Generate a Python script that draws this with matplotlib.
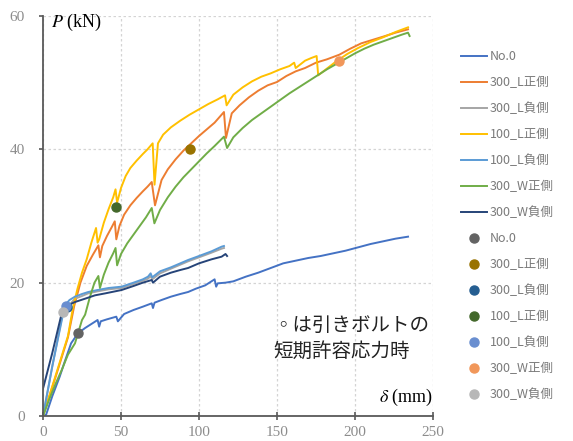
import matplotlib.pyplot as plt

# 荷重-変形データ (δ mm, P kN)
no0_x = [0, 2, 6, 10.7, 14, 18, 22.4, 27, 31, 35, 36, 37, 41, 47, 48, 52, 58, 64, 69.7, 70.5, 71.5,
         76, 82, 88, 93, 98, 104, 110, 111, 112, 117, 122, 130, 138, 146, 154, 162, 170, 178,
         186, 194, 202, 210, 218, 226, 234]
no0_y = [0, 0.2, 3, 5.9, 8.2, 10.9, 12.4, 13.2, 13.8, 14.4, 13.4, 14.2, 14.5, 14.9, 14.2, 15.3, 15.9,
         16.4, 16.9, 16.2, 17.0, 17.4, 17.9, 18.3, 18.6, 19.1, 19.6, 20.5, 19.4, 19.9, 20.0, 20.2,
         20.9, 21.5, 22.2, 22.9, 23.3, 23.7, 24.0, 24.4, 24.8, 25.3, 25.8, 26.2, 26.6, 26.9]

l300p_x = [0, 8, 16, 20, 24, 28, 32, 35.5, 36.5, 38, 41, 44, 46, 47, 49, 52, 56, 60, 64, 67, 69.7,
           71.8, 76, 80, 85, 90, 95, 100, 105, 110, 116, 117.3, 121, 126, 132, 138, 144, 150, 156,
           162, 168, 175, 182, 190, 197, 204, 211, 218, 226, 234]
l300p_y = [0, 5.8, 11.8, 16.5, 20, 22.5, 24.2, 25.6, 23.8, 25.5, 27, 28.3, 29.2, 26.5, 28.5, 30.2,
           31.6, 32.7, 33.7, 34.4, 35.1, 31.6, 35.4, 37, 38.5, 39.8, 40.9, 42, 43, 44, 45.6, 41.7,
           45.4, 46.6, 47.8, 48.8, 49.6, 50.1, 51.0, 51.7, 52.2, 53.0, 53.5, 54.2, 55.1, 55.9, 56.4,
           56.9, 57.5, 58.0]

l300m_x = [0, 6, 12.8, 16, 20.5, 25, 29, 35, 42, 50.4, 58, 64, 67.3, 69, 70, 75, 82, 88, 93, 100,
           108, 114.5, 116]
l300m_y = [0, 7.5, 15.6, 16.4, 17.6, 18.0, 18.4, 18.7, 19.0, 19.2, 19.8, 20.3, 20.6, 21.0, 20.5,
           21.4, 22.1, 22.7, 23.2, 23.8, 24.5, 25.1, 25.2]

l100p_x = [0, 8, 16, 19, 22, 25, 28, 31, 34, 35, 36, 39, 42, 45, 46.5, 47.5, 50, 53, 56, 60, 64, 67,
           70.3, 71.5, 73.7, 77, 82, 88, 94, 100, 106, 112, 116.7, 117.7, 122, 128, 134, 140, 146,
           152, 158, 161, 162, 168, 172, 175.4, 176.4, 180.8, 188, 195, 202, 210, 218, 226, 234]
l100p_y = [0, 6, 12, 16, 19, 21.5, 23.5, 26, 28.2, 26, 26.5, 29, 31, 32.8, 34, 32, 34.2, 36, 37.2,
           38.3, 39.3, 40.0, 40.9, 34.7, 40.9, 42.2, 43.3, 44.3, 45.2, 46, 46.8, 47.5, 48.1, 46.6,
           48.2, 49.3, 50.2, 50.9, 51.4, 52.0, 52.5, 53.0, 52.2, 53.3, 53.7, 54.0, 51.1, 51.9, 53.2,
           54.3, 55.2, 56.1, 56.8, 57.6, 58.3]

l100m_x = [0, 6, 14, 17, 20.5, 25, 29, 35, 42, 50.4, 58, 64, 67.3, 69, 70, 75, 82, 88, 93, 100,
           108, 114.5, 116]
l100m_y = [0, 7.5, 16.6, 17.4, 17.9, 18.3, 18.6, 18.9, 19.2, 19.4, 20.0, 20.5, 20.9, 21.4, 20.8,
           21.7, 22.3, 22.9, 23.4, 24.0, 24.7, 25.4, 25.5]

w300p_x = [0, 4, 8, 12, 16, 20.5, 25, 27, 30, 33, 35.5, 36.5, 39, 42, 45, 46.5, 47.5, 50, 54, 58,
           62, 66, 69.7, 71.4, 75, 80, 85, 90, 95, 100, 105, 110, 116, 118, 122, 128, 134, 140,
           146, 152, 158, 164, 170, 176, 182, 188, 194, 200, 206, 212, 218, 224, 230, 234, 235]
w300p_y = [0, 2.5, 4.8, 6.9, 9.2, 10.9, 14.4, 15.2, 17.8, 20.0, 21, 19.2, 21.2, 23, 24.4, 25.2,
           22.6, 24.3, 25.9, 27.2, 28.5, 29.8, 31.2, 28.9, 30.9, 32.8, 34.4, 35.8, 37, 38.2, 39.4,
           40.5, 41.9, 40.2, 41.8, 43.2, 44.4, 45.4, 46.4, 47.4, 48.4, 49.3, 50.2, 51.1, 52.0, 52.8,
           53.6, 54.4, 55.1, 55.7, 56.2, 56.7, 57.2, 57.5, 57.0]

w300m_x = [0, 6, 12.8, 16, 20.5, 27, 33.3, 40, 50.4, 58, 64, 69.7, 70.5, 75, 82, 88, 93, 100, 108,
           114.5, 117, 118]
w300m_y = [4.1, 9.5, 16.2, 16.6, 17.1, 17.6, 18.1, 18.4, 18.9, 19.5, 20.0, 20.4, 20.0, 20.9, 21.5,
           21.9, 22.2, 22.9, 23.5, 23.9, 24.3, 24.0]

line_labels = ["No.0", "300_L正側", "300_L負側", "100_L正側", "100_L負側", "300_W正側", "300_W負側"]
line_colors = ["#4472C4", "#ED7D31", "#A5A5A5", "#FFC000", "#5B9BD5", "#70AD47", "#264478"]
line_data = [(no0_x, no0_y), (l300p_x, l300p_y), (l300m_x, l300m_y), (l100p_x, l100p_y),
             (l100m_x, l100m_y), (w300p_x, w300p_y), (w300m_x, w300m_y)]

# 引きボルトの短期許容応力時
mark_x = [22.4, 94, 15.5, 46.8, 15, 190, 12.8]
mark_y = [12.4, 40, 16.4, 31.3, 16.5, 53.2, 15.6]
mark_colors = ["#636363", "#997300", "#255E91", "#43682B", "#698ED0", "#F1975A", "#B7B7B7"]


def draw() -> None:
    fig = plt.figure(figsize=(5.73, 4.41), dpi=100)
    ax = fig.add_axes([43 / 573, 1 - 416 / 441, 390 / 573, 400 / 441])

    handles = []
    for (x, y), c, lab in zip(line_data, line_colors, line_labels):
        h, = ax.plot(x, y, color=c, lw=1.4, label=lab)
        handles.append(h)
    for mx, my, c, lab in zip(mark_x, mark_y, mark_colors, line_labels):
        h, = ax.plot([mx], [my], "o", color=c, ms=6.5, ls="none", label=lab)
        handles.append(h)

    ax.set_xlim(0, 250)
    ax.set_ylim(0, 60)
    ax.set_xticks([0, 50, 100, 150, 200, 250])
    ax.set_yticks([0, 20, 40, 60])
    ax.grid(True, color="#d4d4d4", ls=(0, (2, 2)), lw=0.9)
    ax.set_axisbelow(True)
    for s in ["top", "right"]:
        ax.spines[s].set_visible(False)
    for s in ["left", "bottom"]:
        ax.spines[s].set_color("#595959")
        ax.spines[s].set_linewidth(1.3)
    ax.tick_params(axis="x", direction="inout", length=6, width=1.2, color="#595959",
                   labelsize=11, labelcolor="#8c8c8c", pad=4)
    ax.tick_params(axis="y", direction="out", length=3, width=1.2, color="#595959",
                   labelsize=11, labelcolor="#8c8c8c", pad=10)
    for t in ax.get_xticklabels() + ax.get_yticklabels():
        t.set_fontfamily("Liberation Serif")

    ax.text(0.02, 1.01, r"$P$ (kN)", transform=ax.transAxes, fontsize=13,
            family="Liberation Serif", va="top", ha="left")
    ax.text(1.0, 0.035, r"$\delta$ (mm)", transform=ax.transAxes, fontsize=13,
            family="Liberation Serif", va="baseline", ha="right")
    ax.text(0.59, 0.195, "◦は引きボルトの\n短期許容応力時", transform=ax.transAxes, fontsize=14,
            family=["Noto Sans CJK JP", "DejaVu Sans"], va="center", ha="left",
            linespacing=1.3, color="#222222")

    leg = fig.legend(handles=handles, loc="upper left", bbox_to_anchor=(461 / 573, 1 - 50 / 441),
                     frameon=False, handlelength=2.1, handletextpad=0.2,
                     labelspacing=1.04, borderpad=0, borderaxespad=0,
                     prop={"family": ["Noto Sans CJK JP", "DejaVu Sans"], "size": 9})
    for t in leg.get_texts():
        t.set_color("#7a7a7a")

    fig.savefig("out.png", dpi=100)


def main() -> None:
    plt.rcParams["mathtext.fontset"] = "stix"
    draw()


main()
